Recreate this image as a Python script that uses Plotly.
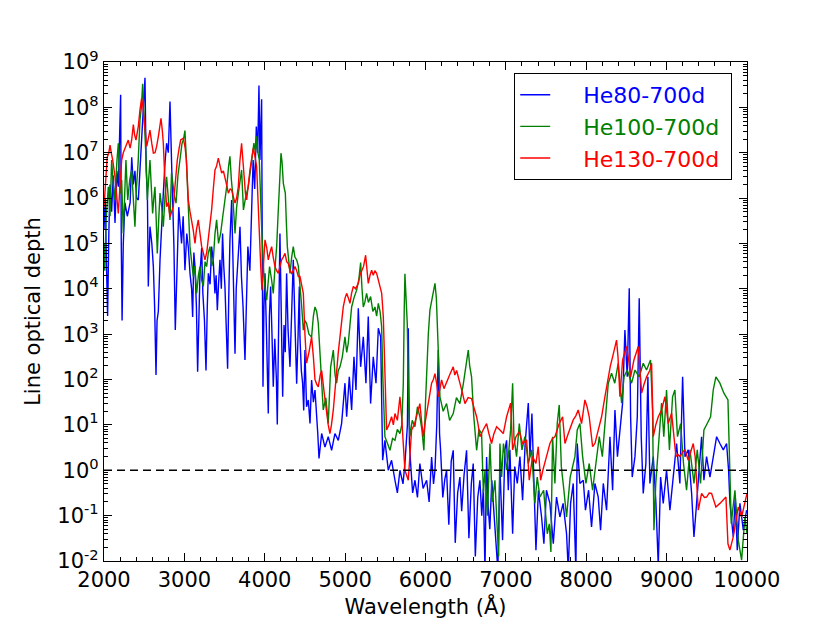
import numpy as np
import plotly.graph_objects as go

# ---------------- data ----------------
# wavelength in Angstrom, and log10 of the line optical depth
wl_he80 = [2000, 2015, 2030, 2045, 2060, 2075, 2095, 2115, 2137, 2160, 2178, 2195, 2207, 2215, 2225, 2240, 2260, 2290, 2325, 2345,
           2365, 2385, 2405, 2427, 2450, 2470, 2490, 2510, 2525, 2540, 2551, 2572, 2595, 2614, 2630, 2647, 2660, 2676, 2697, 2718,
           2738, 2760, 2779, 2800, 2821, 2840, 2858, 2870, 2887, 2900, 2912, 2930, 2945, 2965, 2985, 3007, 3030, 3050, 3070, 3090,
           3103, 3118, 3132, 3150, 3165, 3180, 3194, 3215, 3230, 3250, 3269, 3285, 3298, 3320, 3339, 3360, 3380, 3395, 3410, 3425,
           3443, 3460, 3475, 3490, 3505, 3520, 3538, 3552, 3567, 3588, 3600, 3615, 3630, 3645, 3660, 3676, 3692, 3710, 3730, 3754,
           3770, 3790, 3815, 3837, 3855, 3875, 3895, 3912, 3928, 3940, 3952, 3961, 3970, 3978, 3990, 4003, 4022, 4044, 4058, 4073,
           4090, 4106, 4125, 4145, 4156, 4170, 4189, 4205, 4223, 4240, 4255, 4272, 4290, 4314, 4335, 4355, 4375, 4397, 4415, 4430,
           4438, 4455, 4471, 4485, 4500, 4520, 4542, 4563, 4583, 4605, 4625, 4645, 4660, 4675, 4690, 4708, 4749, 4790, 4832, 4873,
           4915, 4956, 4998, 5019, 5052, 5081, 5110, 5135, 5164, 5193, 5226, 5259, 5288, 5317, 5350, 5384, 5413, 5442, 5467, 5495,
           5537, 5578, 5620, 5650, 5682, 5720, 5744, 5775, 5786, 5800, 5815, 5840, 5869, 5900, 5930, 5970, 6014, 6045, 6076, 6100,
           6118, 6140, 6159, 6175, 6188, 6215, 6240, 6262, 6290, 6320, 6345, 6370, 6400, 6428, 6450, 6480, 6511, 6540, 6570, 6594,
           6620, 6650, 6677, 6700, 6720, 6740, 6760, 6780, 6800, 6825, 6850, 6880, 6900, 6926, 6959, 6988, 7009, 7030, 7050, 7084,
           7110, 7142, 7175, 7208, 7240, 7279, 7300, 7324, 7349, 7374, 7405, 7444, 7473, 7505, 7548, 7590, 7630, 7672, 7712, 7755,
           7776, 7805, 7838, 7871, 7888, 7921, 7963, 7990, 8029, 8066, 8108, 8149, 8178, 8212, 8253, 8295, 8328, 8357, 8388, 8419,
           8452, 8481, 8510, 8535, 8552, 8572, 8606, 8635, 8659, 8684, 8709, 8742, 8767, 8792, 8834, 8867, 8896, 8925, 8958, 8999,
           9041, 9082, 9124, 9165, 9199, 9228, 9269, 9311, 9340, 9373, 9406, 9435, 9464, 9497, 9539, 9580, 9622, 9663, 9705, 9746,
           9771, 9788, 9829, 9854, 9879, 9912, 9954, 9995]
lg_he80 = [5.3, 6.0, 4.6, 3.4, 5.2, 6.3, 5.7, 6.5, 5.45, 6.6, 6.25, 7.2, 8.28, 5.0, 3.3, 5.0, 5.9, 5.6, 5.9, 6.9,
           6.3, 6.6, 6.0, 5.96, 6.8, 7.4, 7.95, 8.65, 6.6, 6.1, 4.05, 5.37, 5.0, 4.49, 3.6, 2.1, 3.3, 3.5, 4.64, 5.5,
           6.11, 6.8, 7.21, 7.0, 8.13, 6.84, 5.6, 4.93, 3.09, 4.2, 4.64, 5.8, 5.52, 5.0, 5.6, 4.41, 5.22, 4.9, 4.34, 4.0,
           3.38, 4.8, 4.49, 3.6, 2.17, 3.8, 4.34, 4.9, 3.9, 3.3, 2.2, 3.6, 4.34, 4.1, 4.93, 4.6, 3.9, 4.3, 3.53, 4.1,
           4.64, 4.0, 5.22, 4.5, 4.05, 3.2, 2.24, 3.8, 5.08, 5.96, 4.93, 3.6, 2.57, 4.0, 4.49, 5.0, 5.37, 4.27, 3.6, 2.43,
           3.8, 4.93, 4.4, 5.74, 6.84, 6.2, 7.58, 7.0, 8.48, 6.84, 7.4, 8.18, 4.5, 1.84, 3.6, 4.34, 3.0, 1.25, 3.4, 4.05,
           3.0, 1.84, 2.9, 2.0, 1.01, 3.3, 5.22, 3.5, 1.62, 3.2, 2.6, 4.34, 3.1, 2.28, 3.6, 4.64, 3.3, 1.91, 3.0, 4.05,
           2.94, 2.2, 1.92, 1.32, 2.65, 1.4, 1.55, 1.03, 1.99, 1.5, 1.77, 1.33, 0.8, 0.26, 0.6, 0.81, 0.51, 0.74, 0.44, 0.81,
           0.66, 1.03, 1.92, 1.18, 2.06, 1.33, 2.5, 1.77, 3.57, 2.28, 2.94, 1.92, 3.39, 1.47, 2.5, 1.92, 3.13, 2.94, 0.22, 0.66,
           0.0, 0.22, -0.22, -0.5, 0.0, -0.3, 0.15, 1.0, 3.13, 0.6, 0.15, -0.5, -0.22, -0.6, 0.15, -0.4, -0.22, -0.7, 0.29, -0.3,
           0.0, 1.0, 2.65, 0.8, 0.44, -0.6, -0.2, 0.0, -1.2, 0.2, 0.44, -1.6, -0.5, -0.15, -0.9, -0.1, 0.44, -1.5, -0.3, 0.15,
           -1.9, -0.6, -0.22, -1.0, -0.4, -2.2, 0.29, -0.8, -1.3, -0.22, -0.9, -1.8, -2.2, 0.07, -1.54, 0.45, 0.66, -0.44, 0.45, -1.4,
           0.08, -0.29, 0.3, -0.66, 0.59, 1.48, 0.3, 1.25, -0.44, -1.76, -0.44, -1.03, -1.62, -0.44, -0.73, -1.62, -0.59, -1.03, -0.73, -1.4,
           -2.2, -0.73, -0.29, -2.2, 0.59, -0.29, -0.22, -0.88, -0.44, -1.25, -0.29, -0.59, -1.32, -0.29, -0.88, 0.74, -0.44, 1.33, 0.3, 0.89,
           1.48, 3.09, 2.06, 4.01, 1.18, -0.15, 0.3, 1.18, 3.79, 0.74, -0.51, 0.15, 2.06, -0.29, 0.3, -0.73, -2.1, -0.15, -0.73, 0.0,
           -0.88, -0.15, 0.59, -0.29, 2.06, 0.3, 0.45, -0.51, -1.47, -0.73, 0.15, 0.74, -0.22, 0.3, -0.15, 0.3, 0.74, 0.59, 0.45, 0.59,
           0.0, -0.73, -1.47, -0.59, -1.76, -0.73, -1.32, -0.88]

wl_he100 = [2000, 2010, 2025, 2054, 2075, 2095, 2115, 2137, 2160, 2178, 2200, 2220, 2240, 2255, 2273, 2295, 2320, 2344, 2365, 2385,
            2405, 2425, 2448, 2465, 2481, 2495, 2510, 2525, 2539, 2555, 2572, 2590, 2605, 2620, 2634, 2650, 2663, 2680, 2697, 2718,
            2738, 2758, 2779, 2800, 2821, 2840, 2860, 2880, 2896, 2920, 2945, 2970, 2990, 3007, 3025, 3045, 3070, 3090, 3111, 3130,
            3153, 3175, 3194, 3215, 3236, 3257, 3277, 3298, 3319, 3340, 3360, 3380, 3401, 3425, 3451, 3478, 3505, 3530, 3550, 3567,
            3585, 3600, 3630, 3650, 3672, 3690, 3712, 3735, 3760, 3795, 3815, 3837, 3865, 3885, 3899, 3915, 3932, 3961, 3975, 3990,
            4005, 4024, 4045, 4060, 4085, 4106, 4125, 4148, 4165, 4177, 4190, 4202, 4215, 4231, 4245, 4256, 4268, 4281, 4300, 4314,
            4335, 4355, 4375, 4397, 4418, 4438, 4460, 4480, 4500, 4520, 4550, 4583, 4605, 4625, 4646, 4666, 4695, 4728, 4760, 4790,
            4820, 4853, 4875, 4894, 4915, 4936, 4965, 4998, 5020, 5039, 5060, 5081, 5110, 5143, 5170, 5193, 5210, 5226, 5245, 5267,
            5290, 5317, 5345, 5371, 5392, 5413, 5435, 5454, 5470, 5480, 5495, 5525, 5558, 5590, 5620, 5650, 5682, 5705, 5724, 5735,
            5744, 5758, 5773, 5790, 5806, 5835, 5869, 5900, 5930, 5955, 5980, 6000, 6014, 6035, 6055, 6080, 6100, 6118, 6135, 6147,
            6165, 6180, 6220, 6262, 6300, 6345, 6385, 6428, 6470, 6511, 6532, 6550, 6573, 6600, 6636, 6665, 6698, 6720, 6740, 6770,
            6802, 6830, 6864, 6890, 6910, 6926, 6947, 6970, 7009, 7030, 7059, 7084, 7100, 7133, 7167, 7200, 7237, 7280, 7320, 7361,
            7390, 7424, 7470, 7515, 7540, 7560, 7581, 7610, 7639, 7664, 7690, 7722, 7755, 7800, 7859, 7888, 7921, 7955, 7996, 8037,
            8079, 8120, 8162, 8200, 8245, 8274, 8315, 8355, 8398, 8440, 8470, 8510, 8564, 8606, 8659, 8709, 8750, 8800, 8825, 8842,
            8865, 8896, 8937, 8965, 8999, 9035, 9074, 9103, 9135, 9174, 9210, 9248, 9290, 9340, 9381, 9422, 9464, 9505, 9547, 9580,
            9613, 9663, 9713, 9763, 9787, 9804, 9850, 9891, 9933, 9974, 10000]
lg_he100 = [5.0, 4.4, 5.5, 6.25, 5.6, 6.84, 6.3, 5.96, 6.8, 7.21, 6.1, 6.4, 5.22, 5.9, 6.84, 5.96, 6.4, 6.62, 5.9, 5.37,
            6.25, 6.8, 7.73, 8.0, 8.52, 8.0, 7.58, 6.8, 5.96, 6.5, 6.84, 6.2, 5.66, 6.0, 6.25, 5.5, 4.78, 5.5, 6.11, 5.8,
            5.37, 6.0, 6.47, 6.0, 5.52, 6.55, 6.2, 6.0, 5.89, 6.5, 6.84, 7.2, 7.3, 7.49, 6.84, 6.0, 4.93, 4.6, 4.27, 4.5,
            3.9, 4.3, 4.49, 4.2, 4.05, 4.6, 4.49, 4.8, 4.93, 4.5, 4.64, 5.2, 5.52, 5.0, 5.22, 5.6, 5.96, 6.3, 6.7, 6.92,
            6.4, 6.11, 5.22, 5.8, 6.11, 6.4, 6.62, 5.74, 6.0, 6.25, 6.5, 6.84, 7.21, 7.0, 7.36, 7.0, 6.84, 5.37, 4.7, 4.27,
            4.0, 3.75, 4.2, 4.49, 4.2, 3.9, 4.4, 4.93, 5.6, 6.11, 6.6, 6.99, 6.8, 6.33, 6.2, 6.11, 5.5, 4.93, 4.6, 4.34,
            4.7, 4.93, 4.7, 4.64, 4.5, 4.12, 3.6, 3.09, 3.3, 3.24, 3.0, 2.94, 3.4, 3.6, 3.5, 3.24, 2.28, 1.33, 1.6, 1.03,
            2.28, 2.65, 2.1, 1.92, 2.2, 2.28, 2.5, 2.94, 2.6, 2.8, 3.2, 3.6, 3.8, 3.97, 4.2, 4.58, 4.0, 3.6, 3.7, 3.9,
            3.7, 3.83, 3.5, 3.6, 3.4, 3.68, 3.5, 3.17, 2.0, 1.2, 0.74, 0.6, 0.44, 0.7, 0.66, 0.9, 0.81, 1.0, 1.92, 3.5,
            4.33, 3.8, 3.24, 1.5, 0.74, 1.1, 0.96, 1.4, 1.18, 0.9, 0.44, 1.5, 2.28, 3.0, 3.53, 3.8, 4.0, 4.12, 3.8, 3.24,
            2.3, 1.62, 1.3, 1.47, 1.1, 1.25, 1.6, 1.47, 1.9, 2.36, 2.65, 2.3, 2.06, 1.2, 0.44, 0.9, 0.81, -0.5, 0.0, -1.0,
            0.59, -0.7, -0.22, -1.2, -1.9, 0.59, -0.15, 0.59, 0.0, 0.3, 0.89, 1.92, 0.74, 0.3, 1.03, 0.45, 0.74, 0.15, 0.45, -0.73,
            -0.15, -0.59, -0.44, -1.4, -1.18, -1.8, 0.74, -0.29, 1.03, 1.44, 0.08, -0.44, -1.03, -0.15, 0.3, 0.89, 1.03, 0.3, -0.29, 0.15,
            -0.44, 0.15, 0.74, 0.3, 1.33, 1.92, 2.14, 1.92, 2.36, 1.48, 2.06, 2.21, 1.92, 2.21, 2.06, 2.36, 2.21, 2.43, 1.33, -1.32,
            -0.29, 0.45, 1.48, 0.74, 1.77, 0.45, 1.62, 1.77, 0.74, 1.03, 0.15, -0.44, 0.45, -0.29, 0.45, -0.29, 0.89, 1.03, 1.18, 1.77,
            2.06, 1.92, 1.7, 1.55, -0.29, -1.18, -0.44, -1.54, -1.98, -1.03, -1.4]

wl_he130 = [2000, 2020, 2040, 2060, 2075, 2090, 2108, 2137, 2160, 2178, 2200, 2220, 2240, 2261, 2280, 2302, 2325, 2344, 2365, 2380,
            2398, 2427, 2448, 2468, 2485, 2497, 2515, 2531, 2550, 2572, 2595, 2614, 2635, 2655, 2680, 2709, 2725, 2738, 2755, 2779,
            2800, 2821, 2842, 2862, 2885, 2912, 2935, 2954, 2987, 3010, 3025, 3049, 3070, 3090, 3110, 3132, 3150, 3173, 3195, 3215,
            3235, 3256, 3278, 3298, 3320, 3339, 3360, 3381, 3400, 3422, 3445, 3464, 3485, 3505, 3525, 3547, 3570, 3588, 3610, 3630,
            3650, 3671, 3690, 3712, 3725, 3740, 3760, 3775, 3795, 3816, 3840, 3858, 3880, 3899, 3915, 3932, 3950, 3965, 3985, 4003,
            4025, 4044, 4065, 4086, 4105, 4127, 4148, 4169, 4190, 4210, 4230, 4252, 4273, 4293, 4315, 4335, 4355, 4376, 4397, 4418,
            4438, 4460, 4480, 4500, 4520, 4550, 4583, 4605, 4625, 4646, 4666, 4690, 4708, 4740, 4770, 4790, 4811, 4830, 4853, 4875,
            4894, 4915, 4936, 4957, 4977, 5000, 5019, 5040, 5060, 5080, 5102, 5130, 5164, 5185, 5205, 5230, 5255, 5270, 5288, 5310,
            5330, 5350, 5370, 5392, 5412, 5433, 5455, 5475, 5485, 5495, 5505, 5516, 5545, 5578, 5600, 5620, 5650, 5682, 5703, 5720,
            5744, 5786, 5805, 5827, 5860, 5889, 5910, 5930, 5950, 5972, 6000, 6035, 6055, 6076, 6098, 6118, 6140, 6159, 6180, 6200,
            6230, 6262, 6300, 6345, 6365, 6387, 6410, 6428, 6460, 6491, 6530, 6573, 6600, 6636, 6655, 6677, 6720, 6760, 6790, 6822,
            6850, 6885, 6926, 6968, 7009, 7030, 7059, 7084, 7105, 7125, 7167, 7208, 7258, 7291, 7332, 7374, 7403, 7432, 7460, 7486,
            7520, 7548, 7580, 7610, 7640, 7664, 7706, 7735, 7776, 7810, 7838, 7870, 7900, 7942, 7983, 8010, 8037, 8079, 8110, 8129,
            8160, 8191, 8232, 8274, 8300, 8328, 8355, 8377, 8395, 8419, 8452, 8480, 8502, 8530, 8552, 8593, 8620, 8647, 8668, 8689,
            8720, 8751, 8790, 8813, 8834, 8865, 8896, 8937, 8979, 9000, 9020, 9062, 9090, 9116, 9140, 9165, 9200, 9228, 9269, 9300,
            9331, 9355, 9373, 9394, 9435, 9470, 9497, 9530, 9559, 9613, 9663, 9700, 9738, 9763, 9787, 9829, 9860, 9891, 9933, 9970,
            10000]
lg_he130 = [5.8, 6.3, 6.9, 7.0, 7.17, 7.0, 6.84, 6.47, 6.0, 5.66, 6.3, 6.84, 7.0, 7.1, 7.2, 7.28, 7.1, 7.28, 7.62, 7.4,
            7.28, 7.58, 7.95, 8.2, 8.0, 7.8, 7.4, 7.14, 7.3, 7.5, 7.2, 6.99, 7.0, 7.14, 7.4, 7.76, 7.5, 7.21, 6.5, 5.81,
            5.9, 5.59, 5.7, 5.81, 6.3, 6.84, 7.1, 7.28, 7.32, 7.1, 6.84, 5.96, 5.7, 5.52, 5.3, 5.0, 5.3, 5.52, 5.2, 4.93,
            4.8, 4.64, 4.8, 5.08, 5.4, 5.74, 6.2, 6.62, 6.7, 6.88, 6.7, 6.55, 6.6, 6.47, 6.3, 6.11, 6.2, 6.18, 6.0, 5.89,
            6.0, 6.25, 6.8, 7.21, 6.9, 6.47, 6.1, 5.96, 6.3, 6.62, 6.9, 7.1, 6.9, 6.7, 6.0, 5.08, 4.5, 3.97, 4.6, 5.08,
            4.9, 4.64, 4.8, 4.93, 4.7, 4.49, 4.4, 4.34, 4.5, 4.64, 4.7, 4.78, 4.6, 4.56, 4.4, 4.34, 4.4, 4.49, 4.4, 4.27,
            4.27, 4.1, 3.9, 3.0, 2.36, 2.6, 2.94, 2.5, 2.0, 1.9, 1.84, 2.1, 2.2, 1.7, 1.25, 1.0, 0.81, 1.0, 1.33, 1.8,
            2.28, 2.6, 2.94, 3.3, 3.6, 3.8, 3.9, 3.8, 3.68, 3.9, 4.05, 4.0, 4.12, 4.3, 4.41, 4.5, 4.74, 4.4, 4.12, 4.3,
            4.41, 4.3, 4.4, 4.34, 4.2, 4.12, 3.9, 3.39, 2.7, 1.92, 1.3, 0.89, 1.0, 1.18, 1.0, 1.25, 1.1, 1.62, 1.18, 0.6,
            0.0, -0.22, 0.4, 0.89, 1.0, 1.18, 1.3, 1.47, 1.1, 0.74, 1.1, 1.47, 1.7, 1.92, 2.0, 2.13, 1.9, 1.62, 1.8, 1.99,
            1.8, 1.92, 2.1, 2.28, 2.1, 2.2, 2.0, 1.92, 1.7, 1.47, 1.6, 1.58, 1.4, 1.18, 1.0, 0.74, 0.9, 1.03, 0.8, 0.59,
            0.8, 0.96, 0.89, 0.81, 1.18, 1.3, 1.48, 0.45, 0.6, 0.74, 0.85, 0.59, 0.67, -0.22, 0.3, 0.15, 0.52, -0.22, 0.0, 0.15,
            0.4, 0.59, 0.7, 0.74, 0.9, 1.03, 1.18, 0.59, 0.81, 1.0, 1.11, 1.2, 1.33, 1.03, 1.55, 1.4, 1.18, 0.52, 0.6, 0.74,
            1.0, 1.18, 1.62, 2.06, 2.3, 2.5, 2.7, 2.87, 2.5, 1.62, 2.43, 2.6, 2.73, 2.4, 2.06, 2.43, 2.6, 2.73, 2.2, 1.7,
            1.9, 2.06, 2.2, 2.36, 0.74, 1.0, 1.18, 1.33, 1.62, 1.3, 1.03, 1.26, 0.8, 0.3, 0.35, 0.3, 0.4, 0.45, 0.22, 0.4,
            0.59, 0.3, -0.15, -0.88, -0.51, -0.6, -0.59, -0.5, -0.51, -0.81, -0.73, -0.65, -0.59, -1.62, -1.76, -1.47, -1.1, -0.81, -1.03, -0.7,
            -0.51]

series_names = ["He80-700d", "He100-700d", "He130-700d"]
series_colors = ["#0000ff", "#008000", "#ff0000"]

x_range = [2000, 10000]
x_ticks = [2000, 3000, 4000, 5000, 6000, 7000, 8000, 9000, 10000]
x_ticklabels = ["2000", "3000", "4000", "5000", "6000", "7000", "8000", "9000", "10000"]
y_exponents = [-2, -1, 0, 1, 2, 3, 4, 5, 6, 7, 8, 9]
y_ticklabels = ["10<sup>%d</sup>" % e for e in y_exponents]
threshold = 1.0

# ---------------- figure ----------------
FONT = "DejaVu Sans"
PAD = "\u00a0" * 4
fig = go.Figure()
for wl, lg, name, col in zip([wl_he80, wl_he100, wl_he130],
                             [lg_he80, lg_he100, lg_he130],
                             series_names, series_colors):
    tau = np.power(10.0, np.array(lg))
    fig.add_trace(go.Scatter(
        x=wl, y=tau, mode="lines", line=dict(color=col, width=1.4),
        name="%s<span style='color:%s'>%s</span>\u00a0" % (PAD, col, name)))

fig.add_trace(go.Scatter(x=x_range, y=[threshold, threshold], mode="lines",
                         line=dict(color="black", width=1.4, dash="8px,5px"),
                         showlegend=False, hoverinfo="skip"))

minor_y = [k * 10.0 ** e for e in y_exponents[:-1] for k in range(2, 10)]

# the page body adds an 8 px offset; margins compensate so the axes box
# lands on x 104..747, y 62..561 of the window
fig.update_layout(
    width=830, height=623,
    margin=dict(l=96, r=91, t=54, b=70),
    paper_bgcolor="white", plot_bgcolor="white",
    font=dict(family=FONT, size=21, color="black"),
    showlegend=True,
    legend=dict(x=0.638, y=0.978, xanchor="left", yanchor="top",
                bgcolor="white", bordercolor="black", borderwidth=1,
                font=dict(family=FONT, size=22)),
    xaxis=dict(range=x_range, tickmode="array", tickvals=x_ticks, ticktext=x_ticklabels,
               ticks="inside", ticklen=8, tickwidth=1, tickcolor="black",
               mirror="allticks", showline=True, linecolor="black", linewidth=1.2,
               showgrid=False, zeroline=False,
               minor=dict(ticks="inside", ticklen=4, dtick=200, tickcolor="black", showgrid=False),
               tickfont=dict(family=FONT, size=21),
               title=dict(text="Wavelength (Å)", font=dict(family=FONT, size=21), standoff=8)),
    yaxis=dict(type="log", range=[-2, 9], tickmode="array",
               tickvals=[10.0 ** e for e in y_exponents], ticktext=y_ticklabels,
               ticks="inside", ticklen=8, tickwidth=1, tickcolor="black",
               mirror="allticks", showline=True, linecolor="black", linewidth=1.2,
               showgrid=False, zeroline=False,
               minor=dict(ticks="inside", ticklen=4, tickmode="array", tickvals=minor_y,
                          tickcolor="black", showgrid=False),
               tickfont=dict(family=FONT, size=21),
               title=dict(text="Line optical depth", font=dict(family=FONT, size=21), standoff=10)),
)

fig.write_html("out.html")
